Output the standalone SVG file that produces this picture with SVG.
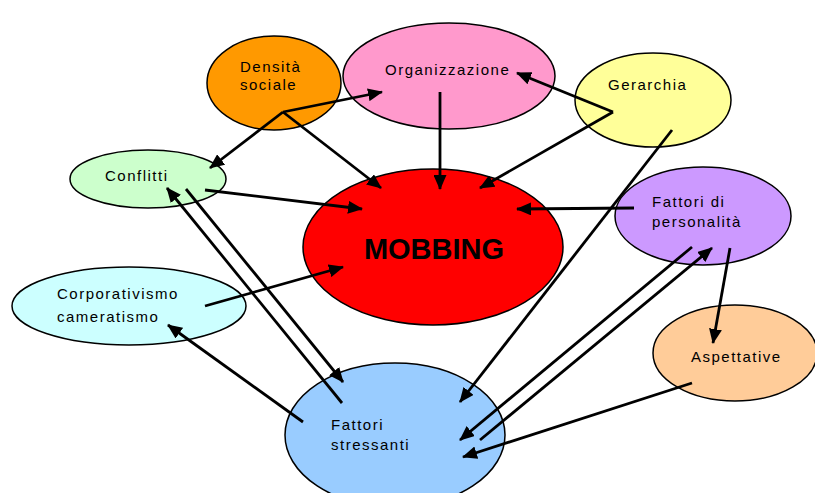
<svg xmlns="http://www.w3.org/2000/svg" width="815" height="493" viewBox="0 0 815 493">
<style>
.n{stroke:#000;stroke-width:1.5}
.t{font-family:"Liberation Sans",Arial,sans-serif;font-size:15px;letter-spacing:1.5px;fill:#000}
.c{fill:none;stroke:#000;stroke-width:2.8;marker-end:url(#ah)}
</style>
<defs>
<marker id="ah" markerWidth="15" markerHeight="13" refX="14" refY="6.5" orient="auto" markerUnits="userSpaceOnUse">
<path d="M0,0 L15,6.5 L0,13 z" fill="#000"/>
</marker>
</defs>
<rect width="815" height="493" fill="#fff"/>
<g id="densita"><ellipse class="n" cx="274" cy="83" rx="67" ry="47" fill="#FF9900"/><text class="t" x="240" y="72">Densità</text><text class="t" x="240" y="90">sociale</text></g>
<g id="organizzazione"><ellipse class="n" cx="449" cy="76" rx="106" ry="53" fill="#FF99CC"/><text class="t" x="385" y="75">Organizzazione</text></g>
<g id="gerarchia"><ellipse class="n" cx="653" cy="100" rx="78" ry="47" fill="#FFFF99"/><text class="t" x="608" y="90">Gerarchia</text></g>
<g id="conflitti"><ellipse class="n" cx="148" cy="179" rx="78" ry="29" fill="#CCFFCC"/><text class="t" x="105" y="181">Conflitti</text></g>
<g id="mobbing"><ellipse class="n" cx="433" cy="247" rx="130" ry="78" fill="#FF0000"/><text x="434" y="259" text-anchor="middle" font-family="'Liberation Sans',Arial,sans-serif" font-size="29" font-weight="bold" fill="#000">MOBBING</text></g>
<g id="personalita"><ellipse class="n" cx="703" cy="216" rx="88" ry="49" fill="#CC99FF"/><text class="t" x="652" y="207">Fattori di</text><text class="t" x="652" y="227">personalità</text></g>
<g id="corporativismo"><ellipse class="n" cx="129" cy="306" rx="117" ry="39" fill="#CCFFFF"/><text class="t" x="57" y="299">Corporativismo</text><text class="t" x="57" y="322">cameratismo</text></g>
<g id="stressanti"><ellipse class="n" cx="395" cy="435" rx="110" ry="72" fill="#99CCFF"/><text class="t" x="331" y="430">Fattori</text><text class="t" x="331" y="450">stressanti</text></g>
<g id="aspettative"><ellipse class="n" cx="735" cy="353" rx="82" ry="48" fill="#FFCC99"/><text class="t" x="691" y="362">Aspettative</text></g>
<g id="connectors">
<path class="c" d="M283,112 L382,92"/>
<path class="c" d="M283,112 L210,168"/>
<path class="c" d="M283,112 L381,188"/>
<path class="c" d="M440,92 L440,189"/>
<path class="c" d="M613,112 L517,73"/>
<path class="c" d="M613,112 L480,188"/>
<path class="c" d="M672,130 L460,402"/>
<path class="c" d="M205,190 L362,209"/>
<path class="c" d="M342,403 L167,188"/>
<path class="c" d="M186,189 L343,382"/>
<path class="c" d="M205,306 L343,267"/>
<path class="c" d="M303,422 L168,325"/>
<path class="c" d="M634,208 L517,209"/>
<path class="c" d="M692,247 L460,440"/>
<path class="c" d="M480,440 L712,248"/>
<path class="c" d="M730,248 L713,343"/>
<path class="c" d="M692,383 L463,457"/>
</g>
</svg>
